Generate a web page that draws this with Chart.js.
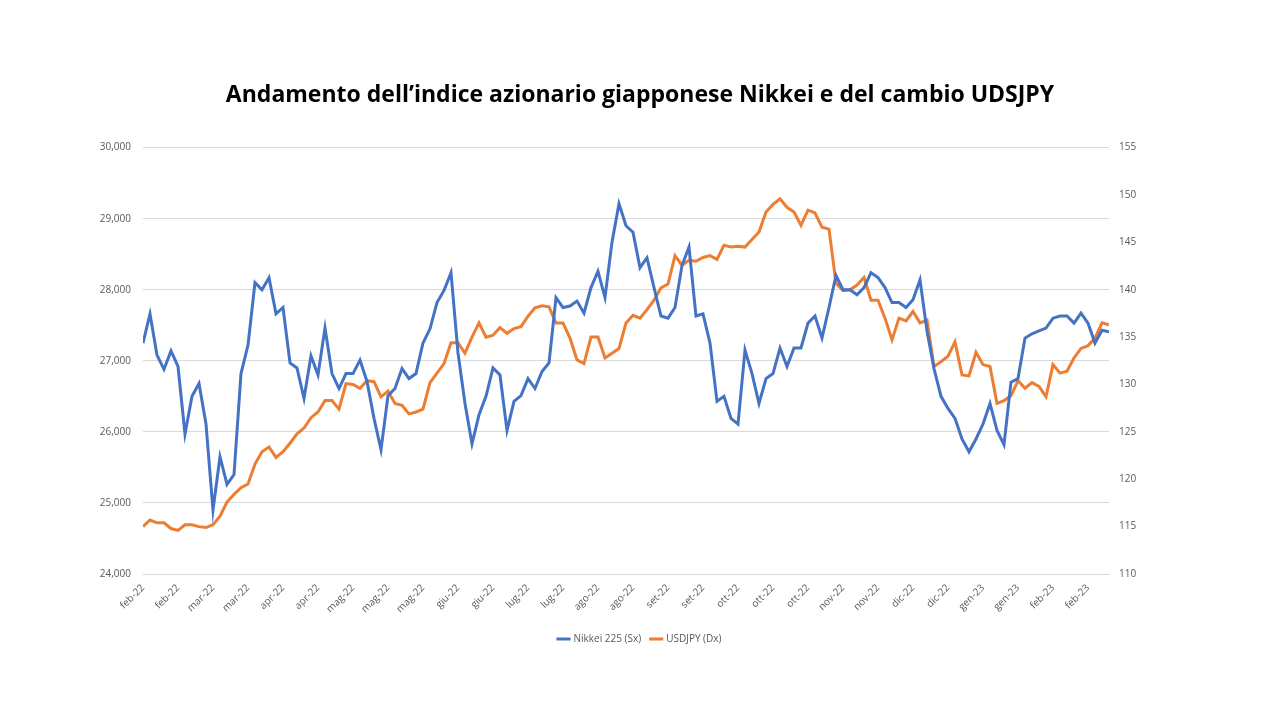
<!DOCTYPE html>
<html>
<head>
<meta charset="utf-8">
<style>
*{padding:0;margin:0;box-sizing:border-box}
body{background:#ffffff;width:1280px;height:720px;overflow:hidden}
</style>
</head>
<body>
<canvas id="myChart" width="1280" height="720"></canvas>
<script src="https://cdn.jsdelivr.net/npm/chart.js"></script>
<script>
// one label every 5 points
const tickLabels = ['feb-22', 'feb-22', 'mar-22', 'mar-22', 'apr-22', 'apr-22', 'mag-22', 'mag-22', 'mag-22', 'giu-22',
  'giu-22', 'lug-22', 'lug-22', 'ago-22', 'ago-22', 'set-22', 'set-22', 'ott-22', 'ott-22', 'ott-22',
  'nov-22', 'nov-22', 'dic-22', 'dic-22', 'gen-23', 'gen-23', 'feb-23', 'feb-23'];

const nikkei = [27250, 27660, 27080, 26880, 27140, 26920, 25970, 26500, 26680, 26110,
  24900, 25650, 25260, 25400, 26820, 27220, 28100, 28000, 28170, 27660,
  27750, 26970, 26900, 26470, 27070, 26800, 27460, 26820, 26610, 26820,
  26820, 27010, 26710, 26190, 25750, 26510, 26610, 26890, 26750, 26820,
  27250, 27450, 27820, 27990, 28240, 27110, 26400, 25830, 26240, 26500,
  26900, 26800, 26020, 26430, 26510, 26750, 26610, 26850, 26970, 27890,
  27750, 27770, 27840, 27670, 28030, 28260, 27890, 28670, 29210, 28900,
  28810, 28310, 28450, 28030, 27630, 27600, 27750, 28340, 28600, 27630,
  27660, 27250, 26430, 26500, 26190, 26110, 27150, 26820, 26400, 26750,
  26820, 27180, 26920, 27180, 27180, 27530, 27630, 27320, 27750, 28200,
  28000, 28000, 27930, 28030, 28240, 28170, 28030, 27820, 27820, 27750,
  27860, 28140, 27420, 26890, 26500, 26330, 26190, 25900, 25720, 25900,
  26110, 26400, 26020, 25820, 26700, 26750, 27320, 27380, 27420, 27460,
  27600, 27630, 27630, 27530, 27670, 27530, 27250, 27430, 27410];

const usdjpy = [115.0, 115.7, 115.4, 115.4, 114.8, 114.6, 115.2, 115.2, 115.0, 114.9,
  115.2, 116.1, 117.6, 118.4, 119.1, 119.5, 121.6, 122.9, 123.4, 122.3,
  122.9, 123.8, 124.8, 125.4, 126.5, 127.1, 128.3, 128.3, 127.4, 130.1,
  130.0, 129.6, 130.4, 130.3, 128.7, 129.3, 128.0, 127.8, 126.9, 127.1,
  127.4, 130.2, 131.2, 132.2, 134.4, 134.4, 133.3, 135.0, 136.5, 135.0,
  135.2, 136.0, 135.4, 135.9, 136.1, 137.2, 138.1, 138.3, 138.2, 136.5,
  136.5, 134.9, 132.6, 132.2, 135.0, 135.0, 132.8, 133.3, 133.8, 136.5,
  137.3, 137.0, 137.9, 138.9, 140.2, 140.6, 143.6, 142.6, 143.1, 143.0,
  143.4, 143.6, 143.2, 144.7, 144.5, 144.6, 144.5, 145.3, 146.1, 148.2,
  149.0, 149.6, 148.7, 148.2, 146.8, 148.4, 148.1, 146.6, 146.4, 140.7,
  139.9, 140.0, 140.5, 141.3, 138.9, 138.9, 137.0, 134.7, 137.0, 136.7,
  137.7, 136.5, 136.8, 131.9, 132.4, 133.0, 134.5, 131.0, 130.9, 133.4,
  132.1, 131.9, 128.0, 128.3, 128.8, 130.4, 129.6, 130.2, 129.8, 128.7,
  132.1, 131.2, 131.4, 132.8, 133.8, 134.1, 134.9, 136.5, 136.3];

const gridColor = '#d9d9d9';
const tickColor = '#595959';

Chart.defaults.font.family = "'Open Sans', 'Liberation Sans', sans-serif";
Chart.defaults.color = tickColor;

let ctx = document.getElementById('myChart').getContext('2d');
let myChart = new Chart(ctx, {
  type: 'line',
  data: {
    datasets: [
      {
        label: 'Nikkei 225 (Sx)',
        data: nikkei.map((v, i) => ({ x: i, y: v })),
        borderColor: '#4472c4',
        backgroundColor: '#4472c4',
        borderWidth: 3,
        pointRadius: 0,
        tension: 0,
        yAxisID: 'y',
      },
      {
        label: 'USDJPY (Dx)',
        data: usdjpy.map((v, i) => ({ x: i, y: v })),
        borderColor: '#ed7d31',
        backgroundColor: '#ed7d31',
        borderWidth: 3,
        pointRadius: 0,
        tension: 0,
        yAxisID: 'y1',
      },
    ],
  },
  options: {
    responsive: false,
    animation: false,
    layout: {
      padding: { left: 0, right: 0, top: 4, bottom: 66 },
    },
    plugins: {
      title: {
        display: true,
        text: 'Andamento dell\u2019indice azionario giapponese Nikkei e del cambio UDSJPY',
        color: '#000000',
        font: { size: 23, weight: 'bold' },
        padding: { top: 78, bottom: 38 },
      },
      legend: {
        position: 'bottom',
        labels: {
          usePointStyle: true,
          pointStyle: 'line',
          boxWidth: 28,
          font: { size: 10 },
          color: tickColor,
          padding: 10,
        },
      },
      tooltip: { enabled: false },
    },
    scales: {
      x: {
        type: 'linear',
        min: 0,
        max: nikkei.length - 1,
        grid: { display: false, drawTicks: true, tickLength: 5, color: gridColor },
        border: { color: gridColor },
        ticks: {
          stepSize: 5,
          autoSkip: false,
          maxRotation: 45,
          minRotation: 45,
          font: { size: 10 },
          callback: (value) => tickLabels[value / 5],
        },
        afterFit: (scale) => { scale.height = 50; },
      },
      y: {
        position: 'left',
        min: 24000,
        max: 30000,
        grid: { color: gridColor, drawTicks: false },
        border: { display: false },
        ticks: { stepSize: 1000, font: { size: 10 }, padding: 12 },
        afterFit: (scale) => { scale.width = 143; },
      },
      y1: {
        position: 'right',
        min: 110,
        max: 155,
        grid: { display: false, drawTicks: false },
        border: { display: false },
        ticks: { stepSize: 5, font: { size: 10 }, padding: 10 },
        afterFit: (scale) => { scale.width = 171; },
      },
    },
  },
});
</script>
</body>
</html>
